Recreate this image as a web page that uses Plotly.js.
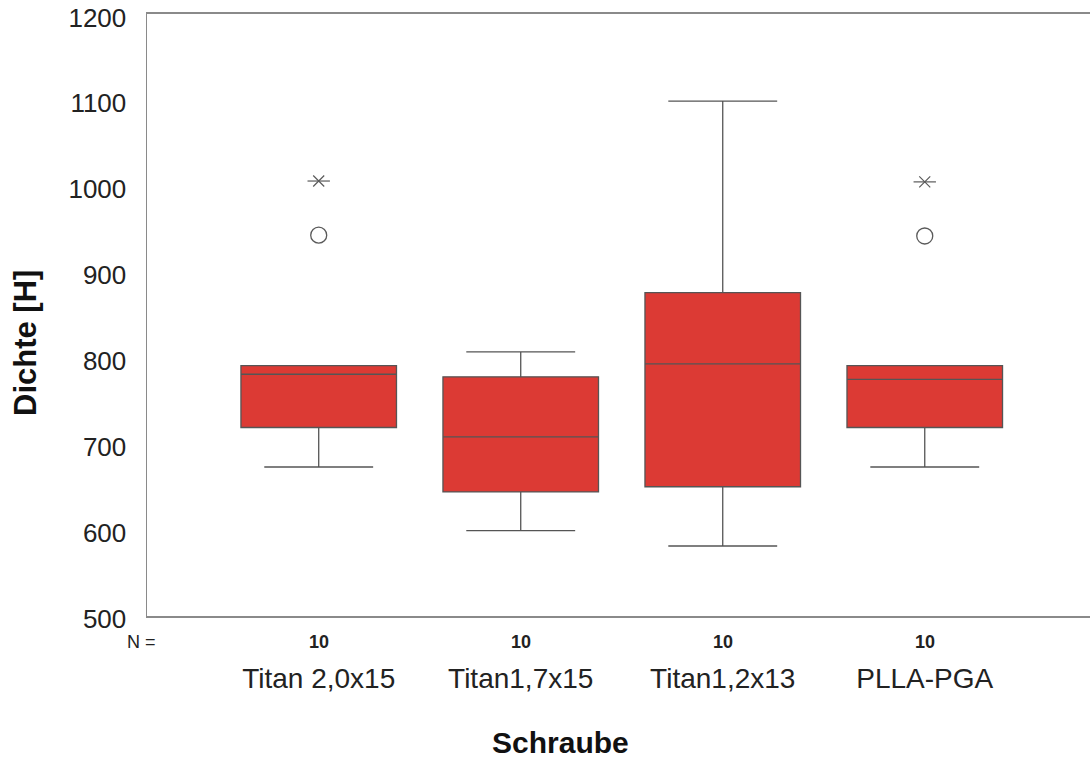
<!DOCTYPE html>
<html>
<head>
<meta charset="utf-8">
<script src="https://cdn.plot.ly/plotly-3.0.1.min.js"></script>
<style>html,body{margin:0;padding:0;background:#fff;}#chart{width:1090px;height:760px;}</style>
</head>
<body>
<div id="chart"></div>
<script>
// Data
const categories = ["Titan 2,0x15", "Titan1,7x15", "Titan1,2x13", "PLLA-PGA"];
const counts = [10, 10, 10, 10];
const q1 = [719, 644, 650, 719];
const median = [781, 708, 793, 775];
const q3 = [791, 778, 876, 791];
const lowerWhisker = [673, 599, 581, 673];
const upperWhisker = [791, 807, 1099, 791];
const circleOutlierCats = ["Titan 2,0x15", "PLLA-PGA"];
const circleOutlierVals = [943, 942];
const starOutlierCats = ["Titan 2,0x15", "PLLA-PGA"];
const starOutlierVals = [1006, 1005];
const yTicks = [500, 600, 700, 800, 900, 1000, 1100, 1200];

const font = "Liberation Sans, Arial, sans-serif";
const lineCol = "#555555";
const markCol = "#5a5a5a";

const traces = [
  {
    type: "box",
    x: categories,
    q1: q1, median: median, q3: q3,
    lowerfence: lowerWhisker, upperfence: upperWhisker,
    boxpoints: false,
    width: 0.77,
    whiskerwidth: 0.7,
    fillcolor: "#dc3a34",
    line: { color: lineCol, width: 1.3 },
    hoverinfo: "skip",
    showlegend: false
  },
  {
    type: "scatter", mode: "markers",
    x: circleOutlierCats, y: circleOutlierVals,
    marker: { symbol: "circle-open", size: 16, color: markCol, line: { width: 1.3, color: markCol } },
    showlegend: false, hoverinfo: "skip"
  },
  {
    type: "scatter", mode: "markers",
    x: starOutlierCats, y: starOutlierVals,
    marker: { symbol: "x-thin-open", size: 11, color: markCol, line: { width: 1.2, color: markCol } },
    showlegend: false, hoverinfo: "skip"
  },
  {
    type: "scatter", mode: "markers",
    x: starOutlierCats, y: starOutlierVals,
    marker: { symbol: "line-ew-open", size: 16, color: markCol, line: { width: 1.2, color: markCol } },
    showlegend: false, hoverinfo: "skip"
  }
];

const annotations = [
  { xref: "paper", yref: "paper", x: 0, xshift: 11, y: 0, yshift: -(642 - 616),
    xanchor: "right", yanchor: "middle",
    text: "N =", showarrow: false, font: { family: font, size: 18, color: "#222" } }
];
counts.forEach((n, i) => {
  annotations.push({
    xref: "x", yref: "paper", x: categories[i], y: 0, yshift: -(642 - 616),
    xanchor: "center", yanchor: "middle",
    text: "<b>" + n + "</b>", showarrow: false, font: { family: font, size: 18, color: "#222" }
  });
});

annotations.push({
  xref: "paper", yref: "paper", x: (560 - 147) / (1090 - 147), y: 0, yshift: -(742 - 616),
  xanchor: "center", yanchor: "middle", showarrow: false,
  text: "<b>Schraube</b>", font: { family: font, size: 30, color: "#111" }
});
annotations.push({
  xref: "paper", yref: "paper", x: 0, xshift: -(147 - 25), y: (616 - 343) / (616 - 14),
  xanchor: "center", yanchor: "middle", showarrow: false, textangle: -90,
  text: "<b>Dichte [H]</b>", font: { family: font, size: 31, color: "#111" }
});

const layout = {
  width: 1090, height: 760,
  margin: { l: 147, r: 0, t: 14, b: 144 },
  paper_bgcolor: "#fff", plot_bgcolor: "#fff",
  showlegend: false,
  xaxis: {
    type: "category",
    range: [-0.85, 3.818],
    showgrid: false, zeroline: false,
    showline: true, mirror: true, linecolor: "#8a8a8a", linewidth: 2,
    ticks: "",
    ticklabelstandoff: 36,
    tickfont: { family: font, size: 28, color: "#222" }
  },
  yaxis: {
    range: [499.5, 1200.5],
    tickvals: yTicks,
    showgrid: false, zeroline: false,
    showline: true, linecolor: "#8a8a8a", linewidth: 1.5,
    ticks: "",
    ticklabelstandoff: 14,
    ticklabelshift: 3,
    ticklabeloverflow: "allow",
    tickfont: { family: font, size: 26, color: "#222" }
  },
  annotations: annotations
};

Plotly.newPlot("chart", traces, layout, { staticPlot: true, displayModeBar: false });
</script>
</body>
</html>
